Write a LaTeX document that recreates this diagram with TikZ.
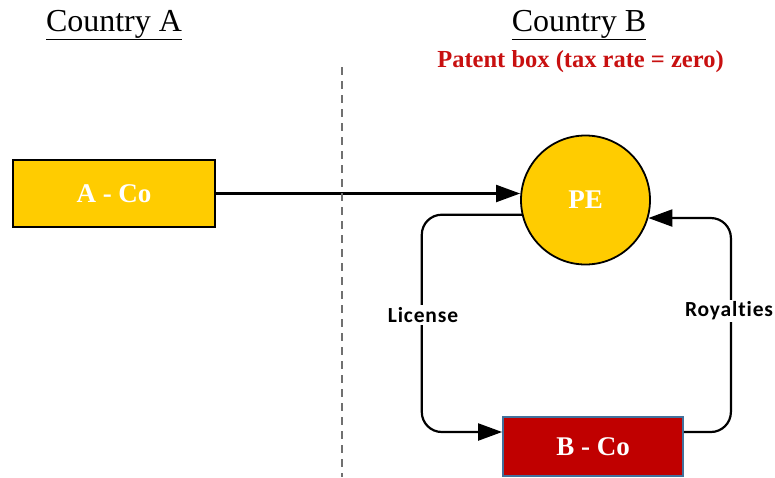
\documentclass[tikz,border=0pt]{standalone}
\usepackage{fontspec}
\setmainfont{Liberation Serif}
\newfontfamily\lblfont[Ligatures=NoCommon,LetterSpace=4]{Carlito}
\usetikzlibrary{arrows.meta}
\definecolor{gold}{HTML}{FFCC00}
\definecolor{bcofill}{HTML}{C00000}
\definecolor{bcoedge}{HTML}{41719C}
\definecolor{boxred}{HTML}{C81010}
\definecolor{divider}{HTML}{707070}

\begin{document}
\begin{tikzpicture}[x=1pt,y=-1pt,
  heading/.style={anchor=base,inner sep=0pt,font=\fontsize{32}{32}\selectfont},
  entity/.style={draw=black,line width=1.8pt,text=white,
    font=\bfseries\fontsize{27}{27}\selectfont,inner sep=0pt},
  flow/.style={line width=2.2pt,rounded corners=20pt,
    -{Triangle[length=24pt,width=17pt]}},
  lbl/.style={fill=white,inner sep=2pt,font=\lblfont\bfseries\fontsize{21.5}{21.5}\selectfont}
]
\useasboundingbox (0,0) rectangle (775,477);

% headings
\node[heading] (ca) at (114,31) {\underline{Country A}};
\node[heading] (cb) at (579,31) {\underline{Country B}};
\node[anchor=base,inner sep=0pt,text=boxred,font=\bfseries\fontsize{24.5}{24.5}\selectfont]
  (pb) at (580.5,67) {Patent box (tax rate = zero)};

% border between the two countries
\coordinate (dtop) at (342,67);
\coordinate (dbot) at (342,477);

% entities
\node[entity,fill=gold,minimum width=202pt,minimum height=67pt] (aco) at (114,193.5) {A - Co};
\node[entity,fill=gold,circle,minimum size=129pt] (pe) at (585.5,200) {PE};
\node[entity,draw=bcoedge,fill=bcofill,minimum width=180pt,minimum height=59pt] (bco) at (593,446.5) {B - Co};

% flows
\draw[flow] (aco.east) -- (aco.east -| pe.west);
\draw[flow] (pe.193) -- ++(-100,0) |- ([yshift=14.5pt]bco.west);
\draw[flow] ([yshift=14.5pt]bco.east) -- ++(47,0) |- (pe.-16);

\draw[divider,line width=1.6pt,dash pattern=on 8pt off 6pt] (dtop) -- (dbot);

% flow labels
\node[lbl] (lic) at (423,315) {License};
\node[lbl] (roy) at (729,311) {Royalties};
\end{tikzpicture}
\end{document}
